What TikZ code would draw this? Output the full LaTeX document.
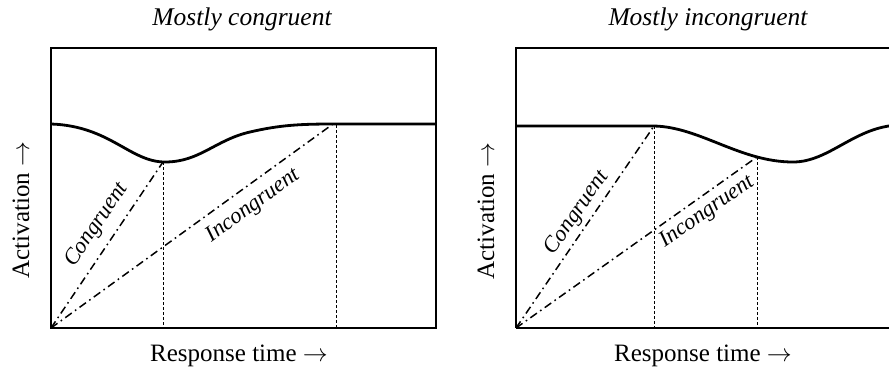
\documentclass[tikz,border=0pt]{standalone}
\usepackage{fontspec}
\setmainfont{Liberation Serif}
\begin{document}
\begin{tikzpicture}[x=1pt,y=-1pt,
  frame/.style={line width=1.4pt},
  act/.style={line width=2.8pt},
  dashdot/.style={line width=1.5pt, dash pattern=on 8pt off 4pt on 1.6pt off 4pt},
  guide/.style={line width=0.8pt, dash pattern=on 3pt off 2pt},
  ttl/.style={font=\fontsize{25.5}{30}\selectfont\itshape},
  axlab/.style={font=\fontsize{25}{30}\selectfont},
  crvlab/.style={font=\fontsize{22.5}{27}\selectfont\itshape, inner sep=1pt}]
\useasboundingbox (0,0) rectangle (889,369);
\clip (0,0) rectangle (889,369);
% ---------- left panel ----------
\coordinate (LO) at (51,328);
\coordinate (LC) at (163,162);
\coordinate (LI) at (333,124);
\coordinate (LCb) at (163,328);
\coordinate (LIb) at (336,328);
\draw[frame] (51,48) rectangle (436,328);
\draw[act] (51,124) .. controls (110,126) and (130,162) .. (165,162)
  .. controls (200,162) and (215,140) .. (250,132)
  .. controls (280,125) and (300,124) .. (335,124) -- (436,124);
\draw[guide] (LC) -- (LCb);
\draw[guide] (336,125) -- (LIb);
\draw[dashdot] (LO) -- (LC);
\draw[dashdot] (LO) -- (LI);
\node[crvlab, rotate=56] (lcl) at (97,225) {Congruent};
\node[crvlab, rotate=36] (lil) at (253,206) {Incongruent};
\node[ttl] (lt) at (242,19) {Mostly congruent};
\node[axlab] (lx) at (239,356) {Response time $\rightarrow$};
\node[axlab, rotate=90] (ly) at (21,210) {Activation $\rightarrow$};
% ---------- right panel ----------
\coordinate (RO) at (516,328);
\coordinate (RC) at (654,126);
\coordinate (RI) at (757,157);
\coordinate (RCb) at (654,328);
\coordinate (RIb) at (757,328);
\draw[frame] (516,328) -- (516,48) -- (900,48);
\draw[frame] (516,328) -- (900,328);
\draw[act] (516,126) -- (654,126) .. controls (700,127) and (740,162) .. (793,162)
  .. controls (830,162) and (855,126) .. (900,125);
\draw[guide] (RC) -- (RCb);
\draw[guide] (RI) -- (RIb);
\draw[dashdot] (RO) -- (RC);
\draw[dashdot] (RO) -- (RI);
\node[crvlab, rotate=55] (rcl) at (577,213) {Congruent};
\node[crvlab, rotate=35] (ril) at (707,212) {Incongruent};
\node[ttl] (rt) at (708,19) {Mostly incongruent};
\node[axlab] (rx) at (703,356) {Response time $\rightarrow$};
\node[axlab, rotate=90] (ry) at (486,211) {Activation $\rightarrow$};
\end{tikzpicture}
\end{document}
